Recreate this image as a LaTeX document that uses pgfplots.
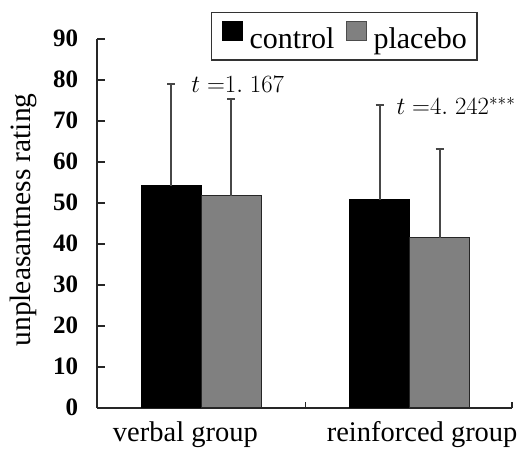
\documentclass[border=0pt]{standalone}
\usepackage{fontspec}
\setmainfont{Liberation Serif}
\usepackage{pgfplots}
\pgfplotsset{compat=1.18}
\begin{document}
\begin{tikzpicture}
\begin{axis}[
  at={(0,0)}, anchor=south west,
  scale only axis, width=414.4bp, height=369bp,
  xmin=-0.5, xmax=1.49, ymin=0, ymax=90,
  clip=false,
  axis lines*=left,
  axis line style={line width=1.6bp, color=black!85, -},
  ytick={0,10,...,90},
  /pgf/number format/assume math mode=true,
  yticklabel style={font=\fontsize{25bp}{25bp}\selectfont\bfseries, inner xsep=0pt, xshift=-19bp},
  ytick style={line width=1.6bp, color=black!85},
  major tick length=8bp,
  tick align=inside,
  xtick={-0.077,1.06},
  xticklabels={verbal group, reinforced group},
  xtick style={draw=none},
  xticklabel style={font=\fontsize{28.5bp}{28.5bp}\selectfont, anchor=base, yshift=-34bp},
  extra x ticks={0.5,1.49},
  extra x tick labels={},
  extra x tick style={xtick style={draw=black!85, line width=1.6bp}, major tick length=6bp},
  ylabel={unpleasantness rating},
  every axis y label/.style={at={(axis description cs:-0.1786,0.509)}, rotate=90, anchor=center,
    font=\fontsize{29.5bp}{29.5bp}\selectfont},
  legend columns=2,
  legend style={at={(axis description cs:0.274,1.073)}, anchor=north west,
    draw=black!80, line width=1.5bp,
    font=\fontsize{30bp}{30bp}\selectfont,
    inner xsep=10bp, inner ysep=8bp,
    nodes={inner xsep=0bp, inner ysep=2bp},
    /tikz/every odd column/.style={column sep=7bp},
    /tikz/every even column/.style={column sep=11bp}},
]
\addplot[ybar, bar width=60bp, bar shift=0pt, fill=black, draw=black, line width=1.2bp,
  legend image code/.code={\draw[fill=black, draw=black, line width=1bp] (0bp,-1bp) rectangle (20bp,18bp);},
  error bars/.cd, y dir=plus, y explicit,
  error bar style={line width=2bp, color=black!72},
  error mark options={rotate=90, mark size=4bp, line width=2bp, color=black!72}]
  coordinates {(-0.144,54.1) +- (0,24.8) (0.856,50.7) +- (0,23.1)};
\addlegendentry{control}
\addplot[ybar, bar width=60bp, bar shift=0pt, fill=black!50, draw=black!85, line width=1.2bp,
  legend image code/.code={\draw[fill=black!50, draw=black!70, line width=1bp] (0bp,-1bp) rectangle (20bp,18bp);},
  error bars/.cd, y dir=plus, y explicit,
  error bar style={line width=2bp, color=black!72},
  error mark options={rotate=90, mark size=4bp, line width=2bp, color=black!72}]
  coordinates {(0.144,51.7) +- (0,23.5) (1.144,41.5) +- (0,21.6)};
\addlegendentry{placebo}
\node[anchor=base west, inner sep=0pt, font=\fontsize{24bp}{24bp}\selectfont] at (axis cs:-0.049,76.9) {$t\;{=}1.\;167$};
\node[anchor=base west, inner sep=0pt, font=\fontsize{24bp}{24bp}\selectfont] at (axis cs:0.936,71.6) {$t\;{=}4.\;242^{***}$};
\end{axis}
\path (-97.3bp,-42.3bp) rectangle (424.7bp,407.7bp);
\end{tikzpicture}
\end{document}
